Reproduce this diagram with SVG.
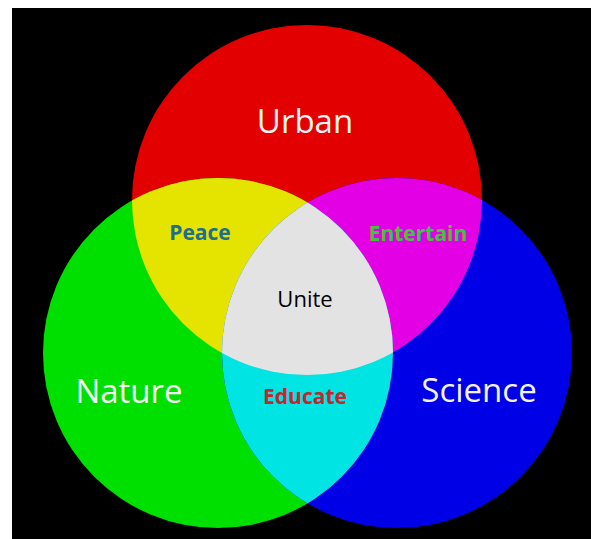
<svg xmlns="http://www.w3.org/2000/svg" width="591" height="539" viewBox="0 0 591 539">
  <defs>
    <clipPath id="clipR"><circle cx="307" cy="200" r="175"/></clipPath>
    <clipPath id="clipG"><circle cx="218" cy="353" r="175"/></clipPath>
    <clipPath id="clipB"><circle cx="397" cy="353" r="175"/></clipPath>
  </defs>
  <style>
    text { font-family: "Open Sans", "Liberation Sans", sans-serif; text-anchor: middle; }
    .big { font-size: 33px; fill: #f2f2f2; }
    .mid { font-size: 21px; font-weight: bold; }
  </style>
  <rect x="0" y="0" width="591" height="539" fill="#ffffff"/>
  <rect x="12" y="8" width="579" height="531" fill="#000000"/>

  <g id="urban">
    <circle cx="307" cy="200" r="175" fill="#e20000"/>
  </g>
  <g id="nature">
    <circle cx="218" cy="353" r="175" fill="#00e000"/>
  </g>
  <g id="science">
    <circle cx="397" cy="353" r="175" fill="#0000e6"/>
  </g>
  <g id="peace">
    <circle cx="307" cy="200" r="175" fill="#e4e400" clip-path="url(#clipG)"/>
  </g>
  <g id="entertain">
    <circle cx="307" cy="200" r="175" fill="#e400e4" clip-path="url(#clipB)"/>
  </g>
  <g id="educate">
    <circle cx="218" cy="353" r="175" fill="#00e4e4" clip-path="url(#clipB)"/>
  </g>
  <g id="unite">
    <g clip-path="url(#clipG)">
      <circle cx="307" cy="200" r="175" fill="#e3e3e3" clip-path="url(#clipB)"/>
    </g>
  </g>

  <g id="labels">
    <text class="big" x="305" y="133">Urban</text>
    <text class="big" x="129" y="403">Nature</text>
    <text class="big" x="479" y="402">Science</text>
    <text class="mid" x="200" y="240" fill="#1f6e8c">Peace</text>
    <text class="mid" x="418" y="241" fill="#3cc83c">Entertain</text>
    <text class="mid" x="305" y="404" fill="#c0282d">Educate</text>
    <text x="305" y="307" font-size="22" fill="#000000">Unite</text>
  </g>
  <g id="connectors"/>
</svg>
